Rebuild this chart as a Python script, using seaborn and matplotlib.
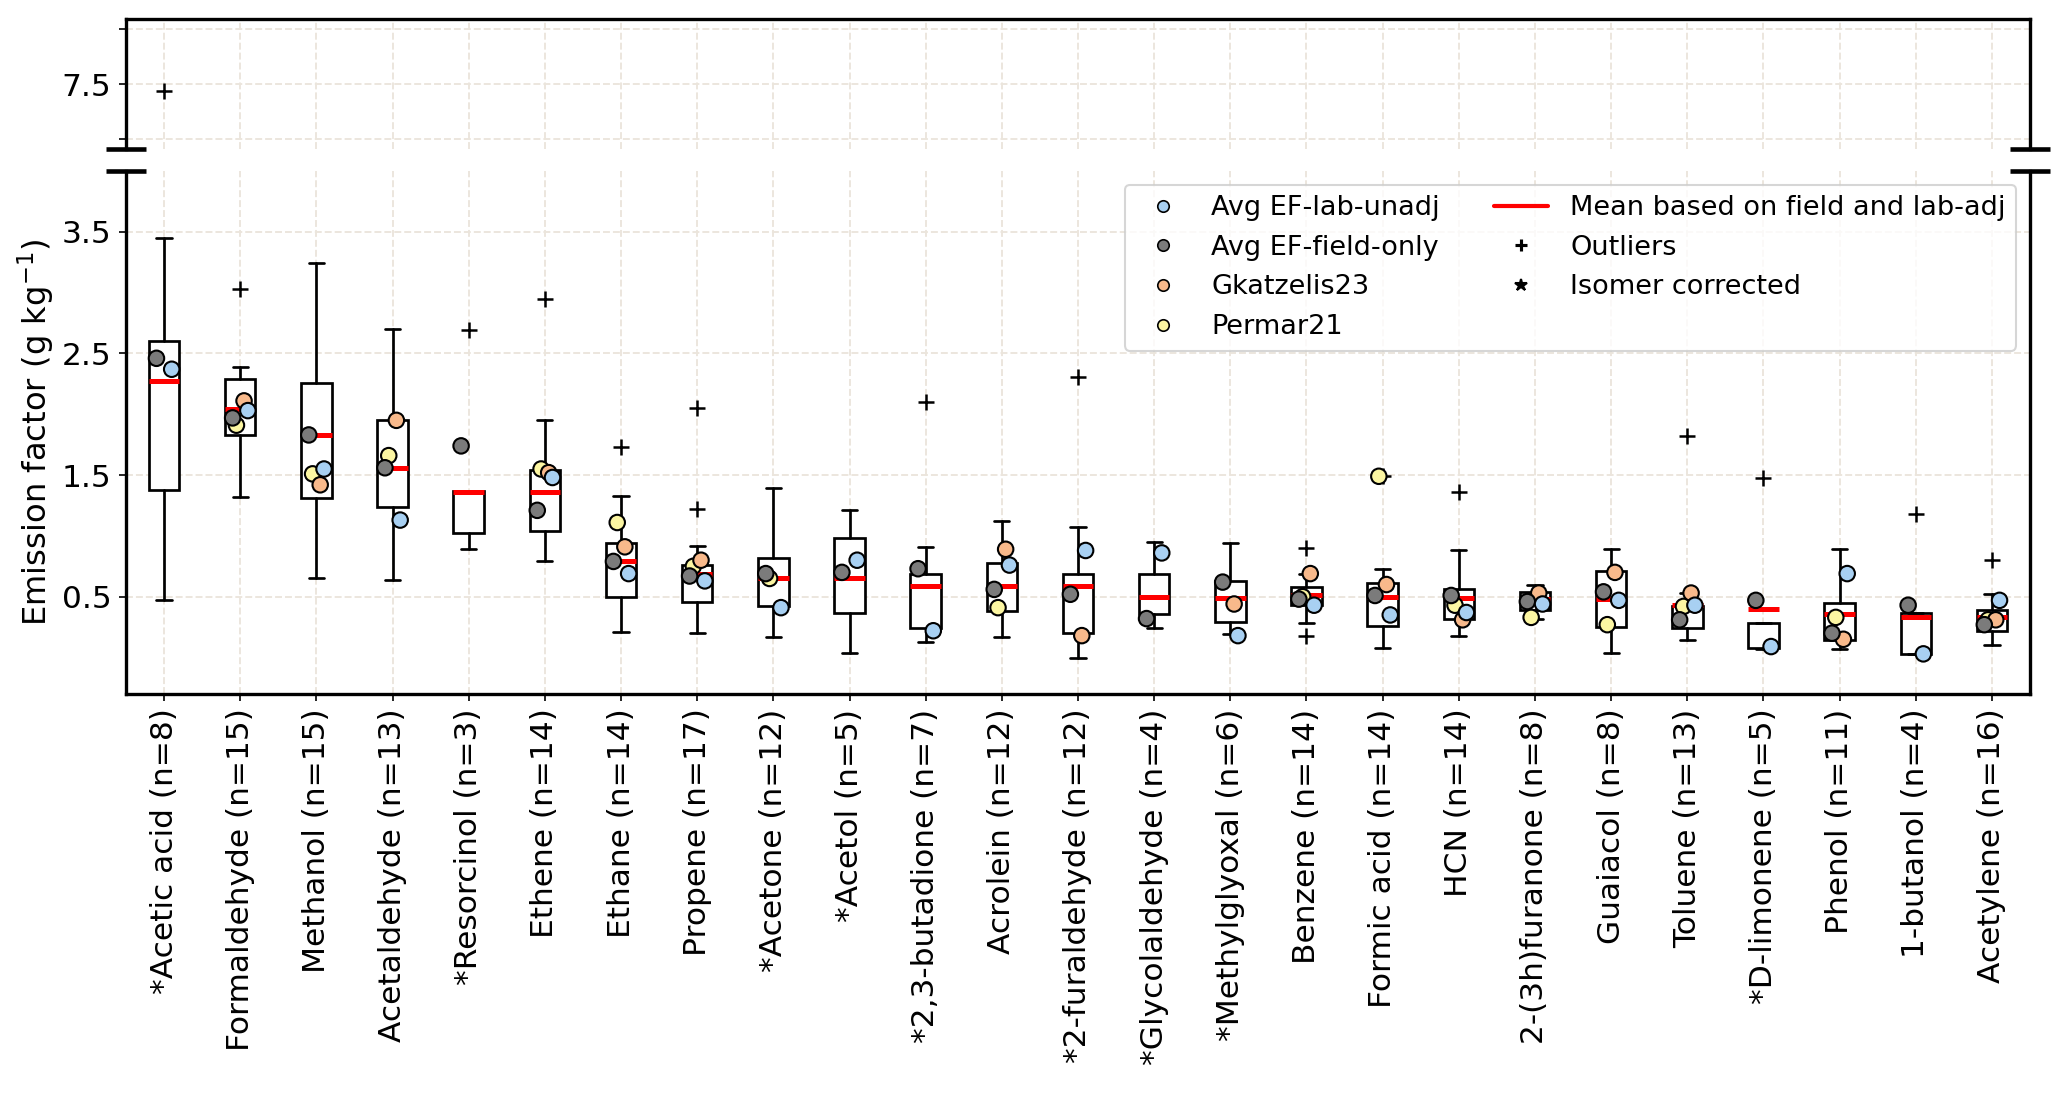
import numpy as np
import pandas as pd
import matplotlib
matplotlib.use("Agg")
import matplotlib.pyplot as plt
from matplotlib.lines import Line2D
import seaborn as sns

# ---- data ----
SPECIES = [
    "*Acetic acid", "Formaldehyde", "Methanol", "Acetaldehyde", "*Resorcinol",
    "Ethene", "Ethane", "Propene", "*Acetone", "*Acetol", "*2,3-butadione",
    "Acrolein", "*2-furaldehyde", "*Glycolaldehyde", "*Methylglyoxal",
    "Benzene", "Formic acid", "HCN", "2-(3h)furanone", "Guaiacol", "Toluene",
    "*D-limonene", "Phenol", "1-butanol", "Acetylene",
]
N_OBS = [8, 15, 15, 13, 3, 14, 14, 17, 12, 5, 7, 12, 12, 4, 6,
         14, 14, 14, 8, 8, 13, 5, 11, 4, 16]

Q1 = [1.38, 1.83, 1.31, 1.24, 1.02, 1.04, 0.50, 0.46, 0.42, 0.37, 0.24, 0.38, 0.20,
      0.36, 0.29, 0.43, 0.26, 0.32, 0.39, 0.25, 0.24, 0.08, 0.14, 0.03, 0.22]
Q3 = [2.60, 2.29, 2.26, 1.95, 1.37, 1.54, 0.94, 0.76, 0.82, 0.98, 0.69, 0.78, 0.69,
      0.69, 0.63, 0.58, 0.61, 0.56, 0.54, 0.71, 0.42, 0.28, 0.45, 0.37, 0.39]
WHIS_LO = [0.47, 1.32, 0.65, 0.64, 0.89, 0.79, 0.21, 0.20, 0.17, 0.04, 0.13, 0.17, 0.00,
           0.24, 0.19, 0.28, 0.08, 0.18, 0.32, 0.04, 0.14, 0.07, 0.07, 0.03, 0.10]
WHIS_HI = [3.45, 2.39, 3.24, 2.70, 1.37, 1.95, 1.33, 0.92, 1.39, 1.21, 0.91, 1.12, 1.07,
           0.95, 0.94, 0.69, 0.73, 0.88, 0.60, 0.89, 0.53, 0.28, 0.89, 0.37, 0.52]
MEAN_EF = [2.27, 2.04, 1.83, 1.56, 1.36, 1.36, 0.79, 0.69, 0.65, 0.65, 0.59, 0.59, 0.59,
           0.50, 0.49, 0.51, 0.50, 0.49, 0.48, 0.48, 0.43, 0.40, 0.36, 0.33, 0.33]
OUTLIERS = [[7.44], [3.03], [], [], [2.69], [2.95], [1.73], [2.05, 1.22], [], [],
            [2.10], [], [2.31], [], [], [0.90, 0.18], [1.49], [1.36], [], [],
            [1.82], [1.48], [], [1.18], [0.80]]

nan = np.nan
EF_LAB_UNADJ = [2.37, 2.03, 1.55, 1.13, nan, 1.48, 0.69, 0.63, 0.41, 0.80, 0.22, 0.76, 0.88,
                0.86, 0.18, 0.43, 0.35, 0.37, 0.44, 0.47, 0.43, 0.09, 0.69, 0.03, 0.47]
EF_FIELD_ONLY = [2.46, 1.97, 1.83, 1.56, 1.74, 1.21, 0.79, 0.67, 0.69, 0.70, 0.73, 0.56, 0.52,
                 0.32, 0.62, 0.48, 0.51, 0.51, 0.46, 0.54, 0.31, 0.47, 0.20, 0.43, 0.27]
EF_GKATZELIS = [nan, 2.11, 1.42, 1.95, nan, 1.52, 0.91, 0.80, nan, nan, nan, 0.89, 0.18,
                nan, 0.44, 0.69, 0.60, 0.31, 0.53, 0.70, 0.53, nan, 0.15, nan, 0.31]
EF_PERMAR = [nan, 1.91, 1.51, 1.66, nan, 1.55, 1.11, 0.75, 0.65, nan, nan, 0.41, nan,
             nan, nan, 0.50, 1.49, 0.43, 0.33, 0.27, 0.42, nan, 0.33, nan, 0.31]

SOURCES = ["Avg EF-lab-unadj", "Avg EF-field-only", "Gkatzelis23", "Permar21"]
COLORS = {"Avg EF-lab-unadj": "#a8d0f2", "Avg EF-field-only": "#7b7b7b",
          "Gkatzelis23": "#f8b98b", "Permar21": "#fcf6a2"}
OFFSETS = {"Avg EF-lab-unadj": 0.10, "Avg EF-field-only": -0.10,
           "Gkatzelis23": 0.05, "Permar21": -0.05}

labels = [f"{s} (n={n})" for s, n in zip(SPECIES, N_OBS)]
pos = np.arange(len(SPECIES))

stats = [
    dict(q1=a, q3=b, whislo=lo, whishi=hi, med=m, mean=m, fliers=f)
    for a, b, lo, hi, m, f in zip(Q1, Q3, WHIS_LO, WHIS_HI, MEAN_EF, OUTLIERS)
]

rows = []
for src, vals in zip(SOURCES, [EF_LAB_UNADJ, EF_FIELD_ONLY, EF_GKATZELIS, EF_PERMAR]):
    for i, v in enumerate(vals):
        if not np.isnan(v):
            rows.append({"x": i + OFFSETS[src], "ef": v, "source": src})
pts = pd.DataFrame(rows)
pts["source"] = pd.Categorical(pts["source"], SOURCES[::-1], ordered=True)
pts = pts.sort_values("source")

sns.set_style("ticks")
plt.rcParams["font.family"] = ["DejaVu Sans"]
plt.rcParams.update({
    "text.color": "black", "axes.labelcolor": "black", "axes.edgecolor": "black",
    "xtick.color": "black", "ytick.color": "black",
})

W, H = 2067, 1094
fig = plt.figure(figsize=(W / 150, H / 150), dpi=150)
L, R = 126 / W, 2030 / W
ax_top = fig.add_axes([L, 1 - 149 / H, R - L, 130 / H])
ax_bot = fig.add_axes([L, 1 - 694 / H, R - L, 523 / H])

GRID = dict(linestyle="--", color="#ebe5dc", linewidth=0.9)
for ax in (ax_top, ax_bot):
    ax.set_axisbelow(True)
    ax.grid(True, **GRID)
    ax.bxp(
        stats, positions=pos, widths=0.4, showmeans=True, meanline=True,
        patch_artist=True, manage_ticks=False,
        boxprops=dict(facecolor="white", edgecolor="black", linewidth=1.3),
        whiskerprops=dict(color="black", linewidth=1.3),
        capprops=dict(color="black", linewidth=1.3),
        medianprops=dict(visible=False),
        meanprops=dict(color="red", linewidth=2.4, linestyle="-"),
        flierprops=dict(marker="+", markeredgecolor="black", markersize=8,
                        markeredgewidth=1.2, linestyle="none"),
    )
    ax.set_xlim(-0.5, len(SPECIES) - 0.5)
    ax.set_xticks(pos)
    for s in ax.spines.values():
        s.set_linewidth(1.6)
        s.set_color("black")

sns.scatterplot(
    data=pts, x="x", y="ef", hue="source", palette=COLORS, s=55,
    edgecolor="black", linewidth=1.0, legend=False, zorder=4, ax=ax_bot,
)

ax_top.set_ylim(6.91, 8.09)
ax_top.set_yticks([7.0, 7.5, 8.0])
ax_top.set_yticklabels(["", "7.5", ""])
ax_top.spines["bottom"].set_visible(False)
ax_top.tick_params(axis="x", bottom=False, labelbottom=False)
ax_top.tick_params(axis="y", labelsize=15)
ax_top.set_xlabel("")
ax_top.set_ylabel("")

ax_bot.set_ylim(-0.3, 4.0)
ax_bot.set_yticks([0.5, 1.5, 2.5, 3.5])
ax_bot.spines["top"].set_visible(False)
ax_bot.set_xticklabels(labels, rotation=90)
ax_bot.tick_params(axis="both", labelsize=15)
ax_bot.set_xlabel("")
ax_bot.set_ylabel("Emission factor (g kg$^{-1}$)", fontsize=15.5, labelpad=2)

# axis break marks
brk = dict(marker=[(-1, 0), (1, 0)], markersize=19, linestyle="none",
           color="k", mec="k", mew=2.2, clip_on=False)
ax_top.plot([0, 1], [0, 0], transform=ax_top.transAxes, **brk)
ax_bot.plot([0, 1], [1, 1], transform=ax_bot.transAxes, **brk)

handles = [
    Line2D([], [], marker="o", linestyle="none", markerfacecolor=COLORS[s],
           markeredgecolor="black", markersize=5.5, markeredgewidth=0.8)
    for s in SOURCES
] + [
    Line2D([], [], color="red", linewidth=2),
    Line2D([], [], marker="+", linestyle="none", color="black", markersize=6, mew=1.5),
    Line2D([], [], marker="*", linestyle="none", color="black", markersize=6),
]
names = SOURCES + ["Mean based on field and lab-adj", "Outliers", "Isomer corrected"]
ax_bot.legend(handles, names, ncol=2, loc="upper right", fontsize=13)

fig.savefig("out.png", dpi=150)
